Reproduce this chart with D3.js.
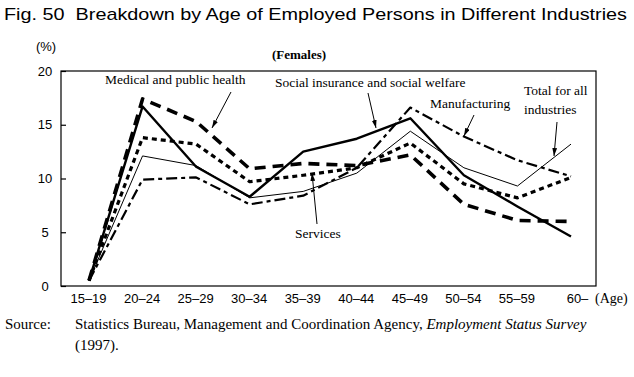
<!DOCTYPE html>
<html>
<head>
<meta charset="utf-8">
<script src="https://cdn.jsdelivr.net/npm/d3@7"></script>
<style>
	body { margin: 0; background: #fff; }
	svg text { fill: #000; }
	.sans { font-family: "Liberation Sans", Arial, sans-serif; }
	.serif { font-family: "Liberation Serif", "Times New Roman", serif; }
</style>
</head>
<body>
<div id="chart"></div>
<script>
'use strict';

// ---------------  Data  --------------- //

const ages          = ["15–19", "20–24", "25–29", "30–34", "35–39", "40–44", "45–49", "50–54", "55–59", "60–"];
const yTicks        = [0, 5, 10, 15, 20];

const medical       = [0.5, 17.4, 15.3, 10.9, 11.4, 11.2, 12.2, 7.6, 6.1, 6.0];
const socialWelfare = [0.5, 16.7, 11.1, 8.3, 12.5, 13.7, 15.6, 10.3, 7.4, 4.6];
const manufacturing = [0.5, 9.9, 10.1, 7.6, 8.4, 11.0, 16.6, 13.9, 11.7, 10.2];
const totalAll      = [0.5, 12.1, 11.2, 8.2, 8.8, 10.5, 14.4, 11.0, 9.3, 13.2];
const services      = [0.5, 13.8, 13.2, 9.7, 10.3, 11.0, 13.3, 9.5, 8.2, 10.1];


const drawChart = () =>
{
	const W = 634, H = 377;
	const box = { left: 61, right: 596, top: 71, bottom: 286 };

	const x = d3.scalePoint().domain(ages).range([89, 571]);
	const y = d3.scaleLinear().domain([0, 20]).range([box.bottom, box.top]);

	const svg = d3.select("#chart")
		.append("svg")
		.attr("width", W)
		.attr("height", H);

	const defs = svg.append("defs");
	defs.append("marker")
		.attr("id", "head")
		.attr("viewBox", "0 0 10 6")
		.attr("refX", 10)
		.attr("refY", 3)
		.attr("markerWidth", 8)
		.attr("markerHeight", 5)
		.attr("markerUnits", "userSpaceOnUse")
		.attr("orient", "auto")
		.append("path")
		.attr("d", "M0,0 L10,3 L0,6 z")
		.attr("fill", "#000");

	// title
	svg.append("text")
		.attr("class", "sans")
		.attr("x", 4)
		.attr("y", 20)
		.attr("font-size", 17)
		.attr("textLength", 623)
		.attr("lengthAdjust", "spacingAndGlyphs")
		.style("white-space", "pre")
		.text("Fig. 50  Breakdown by Age of Employed Persons in Different Industries");

	svg.append("text")
		.attr("class", "sans")
		.attr("x", 46)
		.attr("y", 51)
		.attr("text-anchor", "middle")
		.attr("font-size", 13)
		.text("(%)");

	svg.append("text")
		.attr("class", "serif")
		.attr("x", 299)
		.attr("y", 59)
		.attr("text-anchor", "middle")
		.attr("font-size", 13)
		.attr("font-weight", "bold")
		.text("(Females)");

	// frame
	svg.append("rect")
		.attr("x", box.left)
		.attr("y", box.top)
		.attr("width", box.right - box.left)
		.attr("height", box.bottom - box.top)
		.attr("fill", "none")
		.attr("stroke", "#000")
		.attr("stroke-width", 1.2);

	// axes
	const yAxis = svg.append("g")
		.attr("transform", "translate(" + box.left + ",0)")
		.call(d3.axisLeft(y).tickValues(yTicks).tickSizeInner(-5).tickSizeOuter(0).tickPadding(16));
	yAxis.select(".domain").remove();
	yAxis.selectAll("line").attr("stroke", "#000").attr("stroke-width", 1.2);
	yAxis.selectAll("text")
		.attr("class", "sans")
		.attr("font-size", 13)
		.attr("text-anchor", "middle");

	const xAxis = svg.append("g")
		.attr("transform", "translate(0," + box.bottom + ")")
		.call(d3.axisBottom(x).tickSize(0).tickPadding(8));
	xAxis.select(".domain").remove();
	xAxis.selectAll("text")
		.attr("class", "sans")
		.attr("font-size", 13)
		.attr("dx", (d, i) => i === ages.length - 1 ? 6 : -1);

	svg.append("text")
		.attr("class", "serif")
		.attr("x", 595)
		.attr("y", 303)
		.attr("font-size", 14)
		.text("(Age)");

	// series
	const series = [
		{ values: totalAll,      width: 1,   dash: null },
		{ values: manufacturing, width: 2.2, dash: "11,4,4,4" },
		{ values: services,      width: 3.2, dash: "5,4" },
		{ values: socialWelfare, width: 2.4, dash: null },
		{ values: medical,       width: 3.6, dash: "11,7" }
	];

	const line = d3.line()
		.x((d, i) => x(ages[i]))
		.y(d => y(d));

	svg.selectAll(".series")
		.data(series)
		.enter()
			.append("path")
			.attr("class", "series")
			.attr("d", s => line(s.values))
			.attr("fill", "none")
			.attr("stroke", "#000")
			.attr("stroke-width", s => s.width)
			.attr("stroke-dasharray", s => s.dash)
			.attr("stroke-linejoin", "round");

	// labels with pointers
	const labels = [
		{ lines: ["Medical and public health"],           tx: 105, ty: 84,  from: [231, 92],  to: [212, 128] },
		{ lines: ["Social insurance and social welfare"], tx: 275, ty: 87,  from: [368, 93],  to: [376, 128] },
		{ lines: ["Manufacturing"],                       tx: 430, ty: 108, from: [474, 115], to: [464, 136] },
		{ lines: ["Total for all", "industries"],         tx: 524, ty: 95,  from: [557, 122], to: [554, 156] },
		{ lines: ["Services"],                            tx: 295, ty: 238, from: [317, 224], to: [312, 173] }
	];

	labels.forEach(l =>
	{
		const t = svg.append("text")
			.attr("class", "serif")
			.attr("font-size", 13.5)
			.attr("x", l.tx)
			.attr("y", l.ty);
		l.lines.forEach((s, i) =>
		{
			t.append("tspan")
				.attr("x", l.tx)
				.attr("dy", i === 0 ? 0 : 18.5)
				.text(s);
		});
		svg.append("line")
			.attr("x1", l.from[0])
			.attr("y1", l.from[1])
			.attr("x2", l.to[0])
			.attr("y2", l.to[1])
			.attr("stroke", "#000")
			.attr("stroke-width", 1)
			.attr("marker-end", "url(#head)");
	});

	// source
	const src = svg.append("text")
		.attr("class", "serif")
		.attr("font-size", 15)
		.attr("y", 329);
	src.append("tspan").attr("x", 5).text("Source:");
	src.append("tspan").attr("x", 75).text("Statistics Bureau, Management and Coordination Agency, ");
	src.append("tspan").attr("font-style", "italic").text("Employment Status Survey");

	svg.append("text")
		.attr("class", "serif")
		.attr("font-size", 15)
		.attr("x", 75)
		.attr("y", 350)
		.text("(1997).");
};


document.addEventListener("DOMContentLoaded", () =>
{
	drawChart();
}, false);
</script>
</body>
</html>
